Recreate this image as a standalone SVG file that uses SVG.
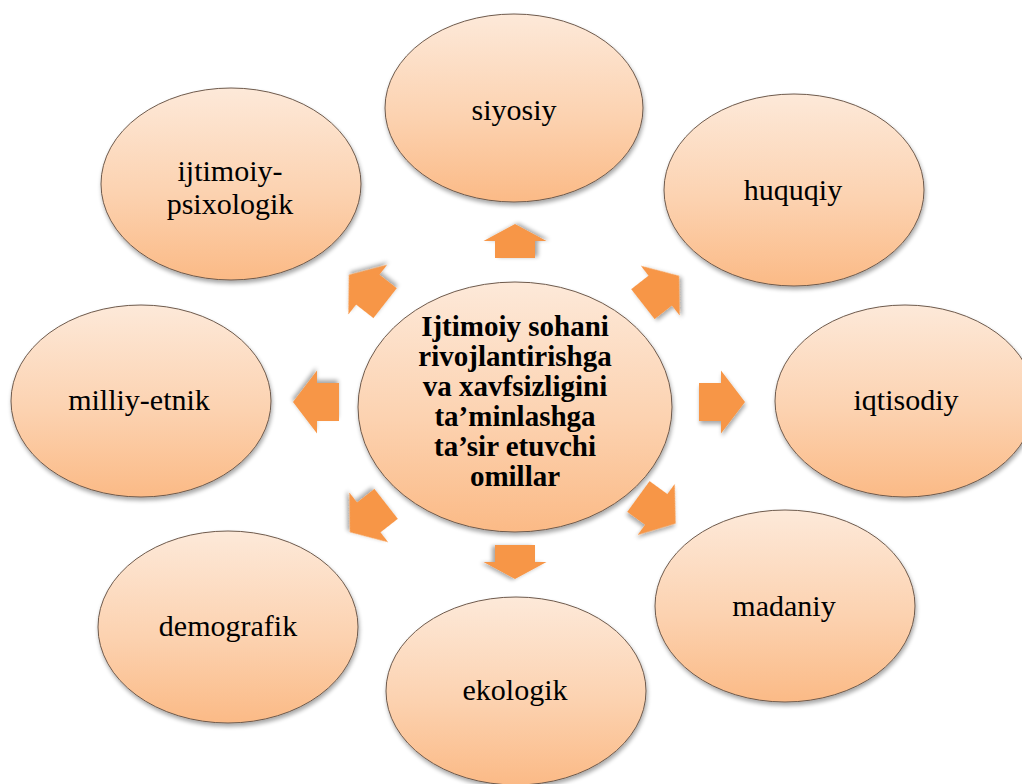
<svg xmlns="http://www.w3.org/2000/svg" width="1022" height="784" viewBox="0 0 1022 784">
<defs>
<linearGradient id="peach" x1="0" y1="0" x2="0" y2="1">
<stop offset="0" stop-color="#fde9d9"/>
<stop offset="0.55" stop-color="#fcd2b0"/>
<stop offset="1" stop-color="#fbba86"/>
</linearGradient>
<filter id="sh" x="-20%" y="-20%" width="140%" height="150%">
<feGaussianBlur in="SourceAlpha" stdDeviation="2"/>
<feOffset dx="1" dy="3" result="b"/>
<feComponentTransfer><feFuncA type="linear" slope="0.35"/></feComponentTransfer>
<feMerge><feMergeNode/><feMergeNode in="SourceGraphic"/></feMerge>
</filter>
<path id="arrH" d="M-23,-19 L-1,-19 L-1,-31.5 L23,0 L-1,31.5 L-1,19 L-23,19 Z"/>
<path id="arrV" d="M-17,-20 L0,-20 L0,-31.5 L17,0 L0,31.5 L0,20 L-17,20 Z"/>
</defs>
<style>
.node ellipse{fill:url(#peach);stroke:#6e5a4c;stroke-width:1;filter:url(#sh)}
.lbl{font-family:"Liberation Serif","Times New Roman",serif;font-size:30px;fill:#000;text-anchor:middle}
.ctr{font-family:"Liberation Serif","Times New Roman",serif;font-size:29px;font-weight:bold;fill:#000;text-anchor:middle}
.arr{fill:#f79646;filter:url(#sh)}
</style>
<rect width="1022" height="784" fill="#ffffff"/>

<g id="connectors">
<use href="#arrV" class="arr" transform="translate(515,241) rotate(-90)"/>
<use href="#arrV" class="arr" transform="translate(515,562) rotate(90)"/>
<use href="#arrH" class="arr" transform="translate(316,402) rotate(180)"/>
<use href="#arrH" class="arr" transform="translate(722,402)"/>
<use href="#arrH" class="arr" transform="translate(661,290) rotate(-38)"/>
<use href="#arrH" class="arr" transform="translate(367,289) rotate(-142)"/>
<use href="#arrH" class="arr" transform="translate(657,510) rotate(36)"/>
<use href="#arrH" class="arr" transform="translate(368,518) rotate(142)"/>
</g>

<g id="center" class="node">
<ellipse cx="515" cy="407" rx="157" ry="125"/>
<text class="ctr" x="515" y="336">Ijtimoiy sohani</text>
<text class="ctr" x="515" y="366">rivojlantirishga</text>
<text class="ctr" x="515" y="396">va xavfsizligini</text>
<text class="ctr" x="515" y="426">ta’minlashga</text>
<text class="ctr" x="515" y="456">ta’sir etuvchi</text>
<text class="ctr" x="515" y="486">omillar</text>
</g>

<g id="siyosiy" class="node">
<ellipse cx="514" cy="108" rx="129" ry="94"/>
<text class="lbl" x="514" y="120">siyosiy</text>
</g>

<g id="ijtimoiy-psixologik" class="node">
<ellipse cx="231" cy="184" rx="130" ry="96"/>
<text class="lbl" x="230" y="181">ijtimoiy-</text>
<text class="lbl" x="230" y="214">psixologik</text>
</g>

<g id="huquqiy" class="node">
<ellipse cx="794" cy="190" rx="130" ry="96"/>
<text class="lbl" x="793" y="200">huquqiy</text>
</g>

<g id="milliy-etnik" class="node">
<ellipse cx="141" cy="401" rx="130" ry="96"/>
<text class="lbl" x="139" y="410">milliy-etnik</text>
</g>

<g id="iqtisodiy" class="node">
<ellipse cx="905" cy="401" rx="130" ry="96"/>
<text class="lbl" x="906" y="410">iqtisodiy</text>
</g>

<g id="demografik" class="node">
<ellipse cx="228" cy="627" rx="130" ry="96"/>
<text class="lbl" x="228" y="636">demografik</text>
</g>

<g id="madaniy" class="node">
<ellipse cx="785" cy="606" rx="130" ry="96"/>
<text class="lbl" x="784" y="616">madaniy</text>
</g>

<g id="ekologik" class="node">
<ellipse cx="516" cy="691" rx="130" ry="94"/>
<text class="lbl" x="515" y="700">ekologik</text>
</g>
</svg>
